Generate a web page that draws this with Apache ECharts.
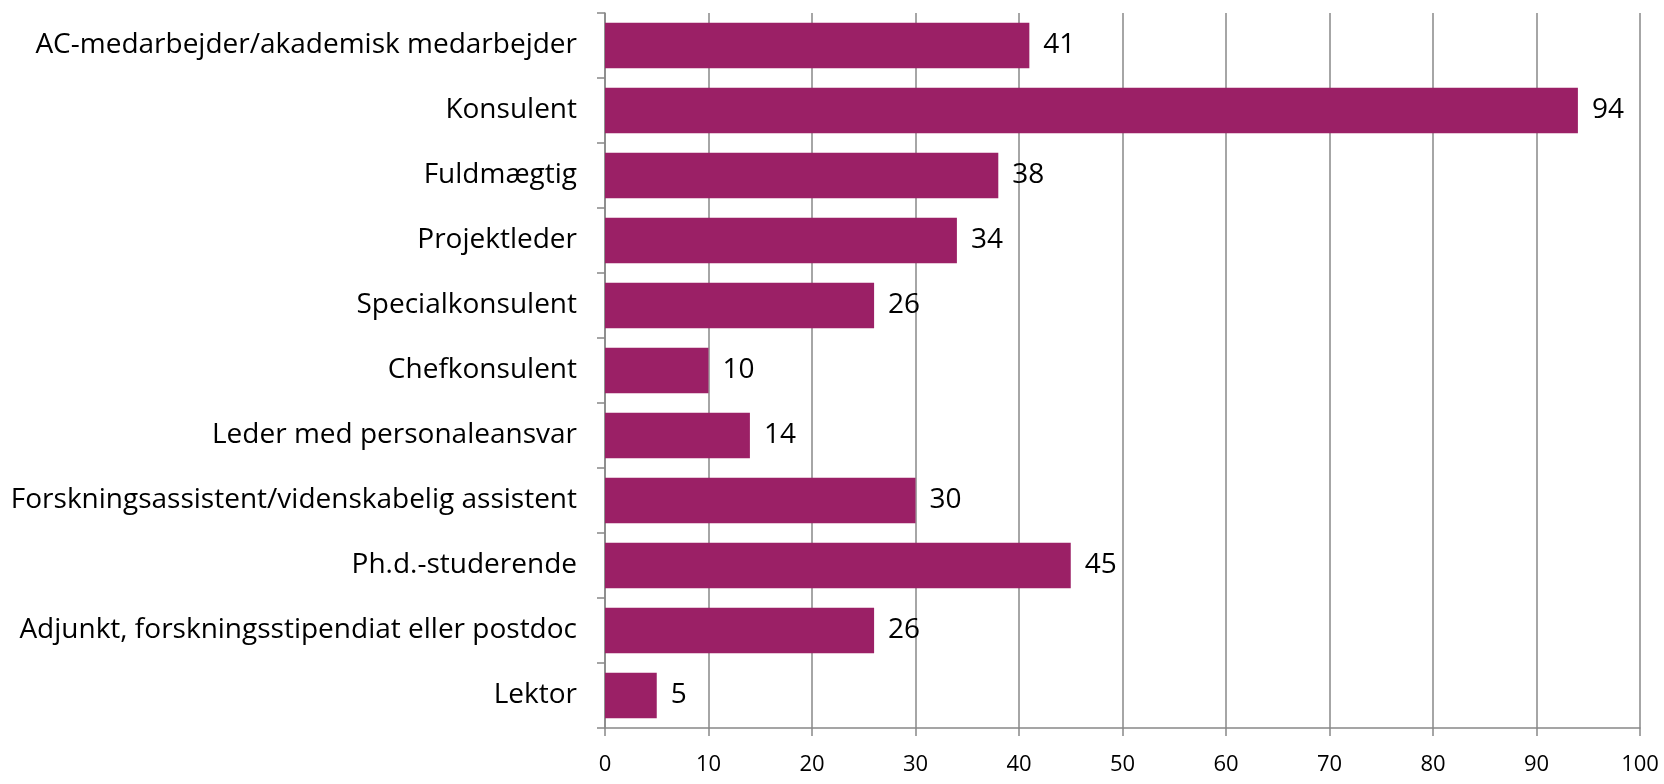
<!DOCTYPE html>
<html><head><meta charset="utf-8">
<script src="https://cdn.jsdelivr.net/npm/echarts@6/dist/echarts.min.js"></script>
<style>html,body{margin:0;padding:0;background:#fff}#c{width:1664px;height:784px}</style>
</head><body><div id="c"></div>
<script>
const categories = ["AC-medarbejder/akademisk medarbejder","Konsulent","Fuldmægtig","Projektleder","Specialkonsulent","Chefkonsulent","Leder med personaleansvar","Forskningsassistent/videnskabelig assistent","Ph.d.-studerende","Adjunkt, forskningsstipendiat eller postdoc","Lektor"];
const values = [41,94,38,34,26,10,14,30,45,26,5];
const chart = echarts.init(document.getElementById('c'));
const font = '"Open Sans", "Noto Sans", sans-serif';
chart.setOption({
  animation:false,
  grid:{left:605,right:24,top:13,bottom:56,containLabel:false},
  xAxis:{type:'value',min:0,max:100,interval:10,
    axisLine:{show:true,lineStyle:{color:'#888',width:1.5}},
    axisTick:{show:true,length:8,lineStyle:{color:'#888',width:1.5}},
    axisLabel:{color:'#000',fontSize:22,fontFamily:font,margin:26},
    splitLine:{show:true,lineStyle:{color:'#888',width:1.5}}},
  yAxis:{type:'category',inverse:true,data:categories,
    axisLine:{show:true,lineStyle:{color:'#888',width:1.5}},
    axisTick:{show:true,length:8,lineStyle:{color:'#888',width:1.5}},
    axisLabel:{color:'#000',fontSize:28,fontFamily:font,margin:28}},
  series:[{type:'bar',data:values,barCategoryGap:'30%',
    itemStyle:{color:'#9B2066'},
    label:{show:true,position:'right',distance:14,color:'#000',fontSize:28,fontFamily:font}}]
});
</script></body></html>
